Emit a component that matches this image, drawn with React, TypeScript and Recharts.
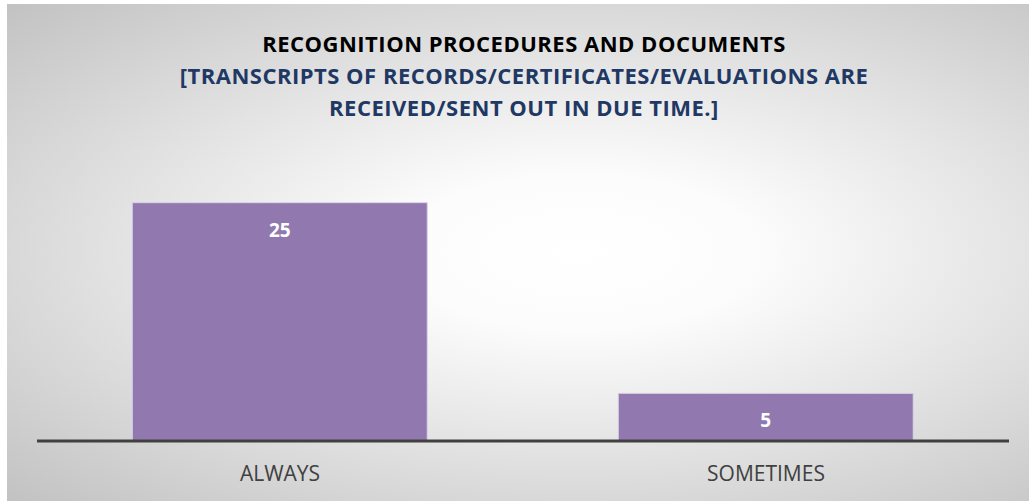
import React from "react";
import { BarChart, Bar, XAxis, YAxis, LabelList } from "recharts";

const categories = ["ALWAYS", "SOMETIMES"];
const values = [25, 5];
const titleLine = "RECOGNITION PROCEDURES AND DOCUMENTS";
const subtitleLines = [
  "[TRANSCRIPTS OF RECORDS/CERTIFICATES/EVALUATIONS ARE",
  "RECEIVED/SENT OUT IN DUE TIME.]",
];

const data = categories.map((c, i) => ({ name: c, value: values[i] }));

const FONT = "'Open Sans', 'DejaVu Sans', sans-serif";

const Tick = (props: any) => {
  const { x, y, payload } = props;
  return (
    <text
      x={x}
      y={y + 24}
      textAnchor="middle"
      dominantBaseline="central"
      fill="#404040"
      fontFamily={FONT}
      fontSize={21}
    >
      {payload.value}
    </text>
  );
};

const ValueLabel = (props: any) => {
  const { x, y, width, value } = props;
  return (
    <text
      x={x + width / 2}
      y={y + 27}
      textAnchor="middle"
      dominantBaseline="central"
      fill="#ffffff"
      fontFamily={FONT}
      fontWeight="bold"
      fontSize={19}
    >
      {value}
    </text>
  );
};

export default function App() {
  return (
    <div
      style={{
        position: "absolute",
        left: 0,
        top: 0,
        width: 1029,
        height: 501,
        background: "#ffffff",
        overflow: "hidden",
      }}
    >
      <div
        style={{
          position: "absolute",
          left: 7,
          top: 4,
          width: 1022,
          height: 497,
          background:
            "radial-gradient(ellipse farthest-corner at 56% 50%, #ffffff 0%, #fcfcfc 22%, #e4e4e4 55%, #c2c2c2 100%)",
        }}
      >
        <div
          style={{
            position: "absolute",
            left: 0,
            width: 1034,
            top: 23,
            textAlign: "center",
            fontFamily: FONT,
            fontWeight: "bold",
            fontSize: 22,
            letterSpacing: 0.5,
            lineHeight: "32px",
          }}
        >
          <div style={{ color: "#000000" }}>{titleLine}</div>
          {subtitleLines.map((l) => (
            <div key={l} style={{ color: "#1f3864" }}>
              {l}
            </div>
          ))}
        </div>
        <div style={{ position: "absolute", left: 0, top: 0 }}>
          <BarChart
            width={1022}
            height={497}
            data={data}
            margin={{ top: 151, right: 20, bottom: 0, left: 30 }}
            barCategoryGap="19.6%"
          >
            <YAxis hide domain={[0, 30]} />
            <XAxis
              dataKey="name"
              height={60}
              axisLine={{ stroke: "#404040", strokeWidth: 3 }}
              tickLine={false}
              tick={<Tick />}
              interval={0}
            />
            <Bar
              dataKey="value"
              fill="#9179af"
              stroke="#dcd3e8"
              strokeWidth={1}
              isAnimationActive={false}
            >
              <LabelList dataKey="value" content={<ValueLabel />} />
            </Bar>
          </BarChart>
        </div>
      </div>
    </div>
  );
}
